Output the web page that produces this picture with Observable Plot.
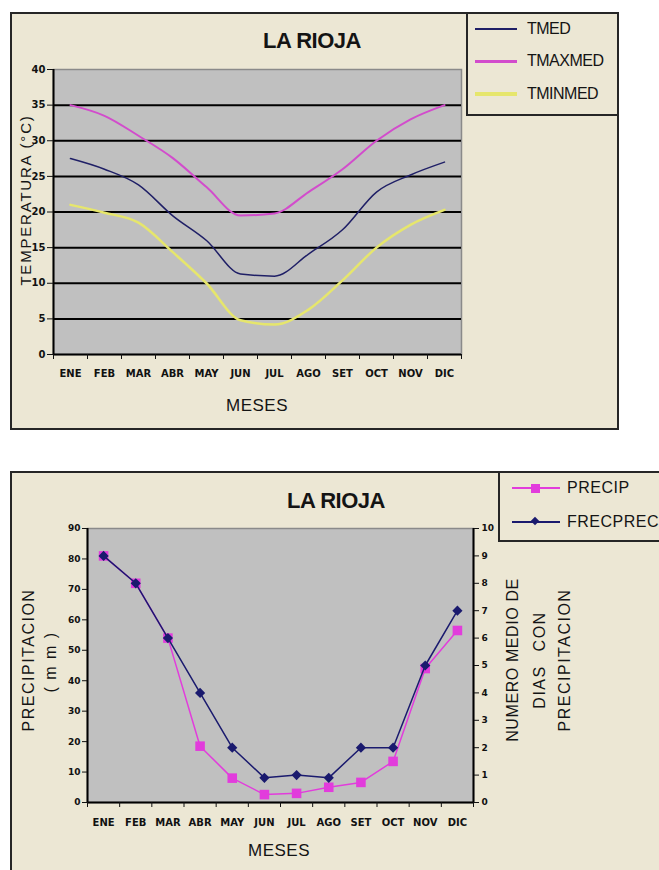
<!DOCTYPE html>
<html><head><meta charset="utf-8">
<script src="https://cdn.jsdelivr.net/npm/d3@7"></script>
<script src="https://cdn.jsdelivr.net/npm/@observablehq/plot@0.6"></script>
<style>
html,body{margin:0;padding:0;background:#fff;width:659px;height:870px;overflow:hidden;position:relative;font-family:"Liberation Sans",Arial,sans-serif;}
.frame{position:absolute;box-sizing:border-box;border:2px solid #262626;background:#ece7d4}
.lbl{position:absolute;white-space:nowrap;transform:translate(-50%,-50%);color:#141414}
.rot{transform:translate(-50%,-50%) rotate(-90deg)}
.title{font-weight:bold;font-size:22px;letter-spacing:-0.5px}
.axt{font-size:16px;letter-spacing:1.5px}
.leg{position:absolute;white-space:nowrap;font-size:16px;letter-spacing:-0.5px;transform:translateY(-50%);color:#141414}
.sw{position:absolute}
.chart{position:absolute}
.chart svg text{font-weight:bold}
</style></head><body>
<script>
// ---- data ----
const meses = ["ENE","FEB","MAR","ABR","MAY","JUN","JUL","AGO","SET","OCT","NOV","DIC"];
const tmed    = [27.5, 26.0, 23.8, 19.5, 16.0, 11.3, 11.0, 14.1, 17.5, 22.8, 25.2, 27.0];
const tmaxmed = [35.0, 33.5, 30.7, 27.6, 23.5, 19.5, 19.8, 22.8, 26.0, 30.0, 33.0, 35.0];
const tminmed = [21.0, 19.9, 18.5, 14.4, 10.0,  4.8,  4.2,  6.3, 10.4, 15.0, 18.2, 20.3];
const tempTicks = [0, 5, 10, 15, 20, 25, 30, 35, 40];

const precip   = [81, 72, 54, 18.5, 8, 2.6, 3, 5, 6.6, 13.5, 44, 56.5];
const frecprec = [9, 8, 6, 4, 2, 0.9, 1, 0.9, 2, 2, 5, 7];
const precTicks = [0, 10, 20, 30, 40, 50, 60, 70, 80, 90];
const diasTicks = [0, 1, 2, 3, 4, 5, 6, 7, 8, 9, 10];

const tempSeries = ["TMED", "TMAXMED", "TMINMED"];
const precSeries = ["PRECIP", "FRECPREC"];

// ---- colours ----
const cTmed = "#1f1f66", cTmax = "#d24ccc", cTmin = "#e6e66c";
const cPrec = "#e23cdc", cFrec = "#1a1a6e";

const escala = precTicks[precTicks.length - 1] / diasTicks[diasTicks.length - 1];

function el(tag, cls, style, text) {
  const e = document.createElement(tag);
  if (cls) e.className = cls;
  Object.assign(e.style, style || {});
  if (text != null) e.textContent = text;
  document.body.appendChild(e);
  return e;
}

// ---- TOP CHART ----
el("div", "frame", {left: "10px", top: "12px", width: "609px", height: "418px"});

const tRows = meses.map((m, i) => ({i, mes: m, tmed: tmed[i], tmax: tmaxmed[i], tmin: tminmed[i]}));
const xBounds = d3.range(-0.5, meses.length, 1);
const xCenters = d3.range(meses.length);

const chartTemp = Plot.plot({
  width: 607, height: 416,
  marginLeft: 42, marginRight: 157, marginTop: 55, marginBottom: 76,
  style: {background: "transparent", fontFamily: "DejaVu Sans", overflow: "visible", color: "#111"},
  x: {domain: [-0.5, meses.length - 0.5]},
  y: {domain: [tempTicks[0], tempTicks[tempTicks.length - 1]]},
  marks: [
    Plot.frame({fill: "#c0c0c0", stroke: "#8a8a8a", strokeWidth: 1.5}),
    Plot.gridY({ticks: tempTicks.slice(1, -1), stroke: "#000", strokeOpacity: 1, strokeWidth: 2}),
    Plot.line(tRows, {x: "i", y: "tmin", stroke: cTmin, strokeWidth: 2.5, curve: "monotone-x"}),
    Plot.line(tRows, {x: "i", y: "tmax", stroke: cTmax, strokeWidth: 2, curve: "monotone-x"}),
    Plot.line(tRows, {x: "i", y: "tmed", stroke: cTmed, strokeWidth: 1.5, curve: "monotone-x"}),
    Plot.ruleY([tempTicks[0]], {stroke: "#000", strokeWidth: 2}),
    Plot.ruleX([-0.5], {stroke: "#000", strokeWidth: 2}),
    Plot.axisY({ticks: tempTicks, tickSize: 6, tickPadding: 2, fontSize: 10, fontWeight: "bold", label: null, tickFormat: d => d}),
    Plot.axisX({ticks: xBounds, tickSize: 5, tickFormat: () => "", label: null}),
    Plot.axisX({ticks: xCenters, tickSize: 0, tickPadding: 15, fontSize: 10, fontWeight: "bold", label: null, tickFormat: i => meses[i]})
  ]
});
const topWrap = el("div", "chart", {left: "11px", top: "14px"});
topWrap.appendChild(chartTemp);

el("div", "lbl title", {left: "312px", top: "41px"}, "LA RIOJA");
el("div", "lbl", {left: "257px", top: "406px", fontSize: "17px", letterSpacing: "0.5px"}, "MESES");
el("div", "lbl rot", {left: "25px", top: "200px", fontSize: "15px", letterSpacing: "1.8px"}, "TEMPERATURA (°C)");

// legend top
el("div", "frame", {left: "466px", top: "12px", width: "153px", height: "104px"});
const legTop = [
  {name: tempSeries[0], color: cTmed, w: 2, y: 29},
  {name: tempSeries[1], color: cTmax, w: 3, y: 61},
  {name: tempSeries[2], color: cTmin, w: 4, y: 94}
];
legTop.forEach(l => {
  el("div", "sw", {left: "475px", top: (l.y - l.w / 2) + "px", width: "42px", height: l.w + "px", background: l.color});
  el("div", "leg", {left: "527px", top: l.y + "px"}, l.name);
});

// ---- BOTTOM CHART ----
el("div", "frame", {left: "10px", top: "471px", width: "720px", height: "460px"});

const pRows = meses.map((m, i) => ({i, mes: m, precip: precip[i], frec: frecprec[i]}));

const chartPrec = Plot.plot({
  width: 648, height: 398,
  marginLeft: 76, marginRight: 186, marginTop: 55, marginBottom: 69,
  style: {background: "transparent", fontFamily: "DejaVu Sans", overflow: "visible", color: "#111"},
  x: {domain: [-0.5, meses.length - 0.5]},
  y: {domain: [precTicks[0], precTicks[precTicks.length - 1]]},
  marks: [
    Plot.frame({fill: "#c0c0c0", stroke: "#8a8a8a", strokeWidth: 1.5}),
    Plot.line(pRows, {x: "i", y: "precip", stroke: cPrec, strokeWidth: 1.5}),
    Plot.dot(pRows, {x: "i", y: "precip", symbol: "square", r: 5.4, fill: cPrec, stroke: "none"}),
    Plot.line(pRows, {x: "i", y: d => d.frec * escala, stroke: cFrec, strokeWidth: 1.5}),
    Plot.dot(pRows, {x: "i", y: d => d.frec * escala, symbol: "diamond2", r: 4.6, fill: cFrec, stroke: "none"}),
    Plot.ruleY([precTicks[0]], {stroke: "#000", strokeWidth: 2}),
    Plot.ruleX([-0.5, meses.length - 0.5], {stroke: "#000", strokeWidth: 2}),
    Plot.axisY({ticks: precTicks, tickSize: 5, tickPadding: 2, fontSize: 9, fontWeight: "bold", label: null, tickFormat: d => d}),
    Plot.axisY({anchor: "right", ticks: diasTicks.map(d => d * escala), tickSize: 5, tickPadding: 3, fontSize: 9, fontWeight: "bold", label: null, tickFormat: d => Math.round(d / escala)}),
    Plot.axisX({ticks: xBounds, tickSize: 5, tickFormat: () => "", label: null}),
    Plot.axisX({ticks: xCenters, tickSize: 0, tickPadding: 16, fontSize: 10, fontWeight: "bold", label: null, tickFormat: i => meses[i]})
  ]
});
const botWrap = el("div", "chart", {left: "11px", top: "473px"});
botWrap.appendChild(chartPrec);

el("div", "lbl title", {left: "336px", top: "501px"}, "LA RIOJA");
el("div", "lbl", {left: "279px", top: "851px", fontSize: "17px", letterSpacing: "0.5px"}, "MESES");
el("div", "lbl rot axt", {left: "29px", top: "660px"}, "PRECIPITACION");
el("div", "lbl rot axt", {left: "51px", top: "662px"}, "( m m )");
el("div", "lbl rot axt", {left: "513px", top: "660px", letterSpacing: "0.6px"}, "NUMERO MEDIO DE");
el("div", "lbl rot axt", {left: "540px", top: "660px", wordSpacing: "8px"}, "DIAS CON");
el("div", "lbl rot axt", {left: "565px", top: "660px"}, "PRECIPITACION");

// legend bottom
el("div", "frame", {left: "498px", top: "471px", width: "220px", height: "71px"});
el("div", "sw", {left: "512px", top: "487px", width: "48px", height: "1.5px", background: cPrec});
el("div", "sw", {left: "531px", top: "484px", width: "9px", height: "9px", background: cPrec});
el("div", "leg", {left: "567px", top: "488px", letterSpacing: "0.5px"}, precSeries[0]);
el("div", "sw", {left: "512px", top: "521px", width: "48px", height: "1.5px", background: cFrec});
el("div", "sw", {left: "532px", top: "518px", width: "6px", height: "6px", background: cFrec, transform: "rotate(45deg)"});
el("div", "leg", {left: "567px", top: "522px", letterSpacing: "0.5px"}, precSeries[1]);
</script>
</body></html>
